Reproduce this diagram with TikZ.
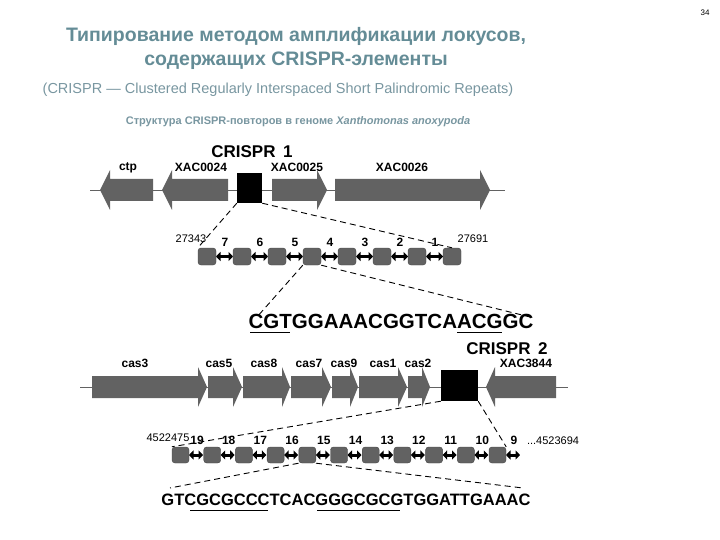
\documentclass[tikz,border=0pt]{standalone}
\usepackage{fontspec}
\setmainfont{Liberation Sans}
\usetikzlibrary{arrows.meta}
\definecolor{gene}{RGB}{98,98,98}
\definecolor{ttl}{RGB}{100,140,150}
\definecolor{sub}{RGB}{120,150,160}
\begin{document}
\begin{tikzpicture}[x=1pt,y=-1pt,
  genel/.style={font=\bfseries\fontsize{12}{12}\selectfont,anchor=base},
  crl/.style={font=\bfseries\fontsize{17}{17}\selectfont,anchor=base},
  num/.style={font=\bfseries\fontsize{12}{12}\selectfont,anchor=base},
  poslbl/.style={font=\fontsize{11}{11}\selectfont,anchor=base},
  rep/.style={draw=gene!70!black,fill=gene,rounded corners=3pt,line width=0.4pt},
  spc/.style={line width=3pt,{Triangle[width=9pt,length=4.5pt]}-{Triangle[width=9pt,length=4.5pt]}},
  dsh/.style={dash pattern=on 6pt off 4pt,line width=0.9pt},
  chrom/.style={line width=0.8pt,gene}]
\useasboundingbox (0,0) rectangle (720,540);
\newcommand{\rarr}[4]{\fill[gene] (#1,#4-11) -- (#2,#4-11) -- (#2,#4-20) -- (#3,#4) -- (#2,#4+20) -- (#2,#4+11) -- (#1,#4+11) -- cycle;}
\newcommand{\larr}[4]{\fill[gene] (#1,#4-11) -- (#2,#4-11) -- (#2,#4-20) -- (#3,#4) -- (#2,#4+20) -- (#2,#4+11) -- (#1,#4+11) -- cycle;}
% titles
\node[font=\fontsize{8}{8}\selectfont,anchor=base] (pg) at (705,16) {34};
\node[font=\bfseries\fontsize{19.5}{20}\selectfont,text=ttl,anchor=base] (t1) at (296,42) {Типирование методом амплификации локусов,};
\node[font=\bfseries\fontsize{19.5}{20}\selectfont,text=ttl,anchor=base] (t2) at (296,66) {содержащих CRISPR-элементы};
\node[font=\fontsize{14.5}{14}\selectfont,text=sub,anchor=base] (t3) at (278,94) {(CRISPR — Clustered Regularly Interspaced Short Palindromic Repeats)};
\node[font=\bfseries\fontsize{11}{11}\selectfont,text=sub,anchor=base] (t4) at (298,125) {Структура CRISPR-повторов в геноме \textit{Xanthomonas anoxypoda}};
% ---------- locus 1
\draw[chrom] (90,190) -- (505,190);
\larr{153}{110}{100}{190}
\larr{228}{172}{162}{190}
\rarr{272}{317}{327}{190}
\rarr{335}{480}{490}{190}
\node[fill=black,minimum width=25pt,minimum height=30pt,inner sep=0pt] (cr1) at (249.5,188) {};
\node[crl] (cr1l) at (252,158) {CRISPR\,\ 1};
\node[genel] (g1) at (128,171) {ctp};
\node[genel] (g2) at (201,172) {XAC0024};
\node[genel] (g3) at (297,172) {XAC0025};
\node[genel] (g4) at (402,172) {XAC0026};
\foreach \k in {0,...,7}{
  \node[rep,minimum width=18pt,minimum height=17pt,inner sep=0pt] (ra\k) at ({207+35*\k},256.5) {};}
\foreach \k/\n in {0/7,1/6,2/5,3/4,4/3,5/2,6/1}{
  \draw[spc] ({216+35*\k},256.5) -- ({233+35*\k},256.5);
  \node[num] at ({225+35*\k},246) {\n};}
\node[poslbl] (p1) at (191,242) {27343};
\node[poslbl] (p2) at (473,243) {27691};
\draw[dsh] (cr1.south west) -- (ra0.north west);
\draw[dsh] (cr1.south east) -- (ra7.north);
\coordinate (s1a) at (257,317);
\coordinate (s1b) at (530,317);
\draw[dsh] (ra3.south west) -- (s1a);
\draw[dsh] (ra3.south east) -- (s1b);
\node[font=\bfseries\fontsize{20.5}{20}\selectfont,anchor=base,inner sep=0pt] (seq1) at (391,328) {CGTGGAAACGGTCAACGGC};
\draw[line width=1pt] (250,332) -- (290,332);
\draw[line width=1pt] (457,332) -- (502,332);
% ---------- locus 2
\draw[chrom] (80,387) -- (568,387);
\rarr{92}{198}{207}{387}
\rarr{208}{233}{242}{387}
\rarr{243}{282}{290}{387}
\rarr{291}{322}{331}{387}
\rarr{332}{350}{358}{387}
\rarr{359}{398}{407}{387}
\rarr{408}{422}{430}{387}
\larr{556}{495}{486}{387}
\node[fill=black,minimum width=37pt,minimum height=31pt,inner sep=0pt] (cr2) at (459.5,385.5) {};
\node[crl] (cr2l) at (507,354) {CRISPR\,\ 2};
\foreach \n/\x in {cas3/135,cas5/219,cas8/264,cas7/309,cas9/344,cas1/383,cas2/418,XAC3844/526}
  \node[genel] (n\n) at (\x,367) {\n};
\foreach \k in {0,...,10}{
  \node[rep,minimum width=17pt,minimum height=16pt,inner sep=0pt] (rb\k) at ({180.5+31.7*\k},455) {};
  \pgfmathtruncatemacro{\nn}{19-\k}
  \draw[spc] ({189+31.7*\k},455) -- ({203+31.7*\k},455);
  \node[num] at ({197+31.7*\k},444) {\nn};}
\node[poslbl] (p3) at (168,441) {4522475};
\node[poslbl] (p4) at (553,444) {...4523694};
\draw[dsh] (cr2.south west) -- (rb0.north west);
\draw[dsh] (cr2.south east) -- (rb10.north east);
\coordinate (s2a) at (170,488);
\coordinate (s2b) at (523,488);
\draw[dsh] (rb4.south west) -- (s2a);
\draw[dsh] (rb4.south east) -- (s2b);
\node[font=\bfseries\fontsize{16.5}{16}\selectfont,anchor=base,inner sep=0pt] (seq2) at (346,505) {GTCGCGCCCTCACGGGCGCGTGGATTGAAAC};
\draw[line width=1pt] (190,510) -- (268,510);
\draw[line width=1pt] (317,510) -- (400,510);
\end{tikzpicture}
\end{document}
